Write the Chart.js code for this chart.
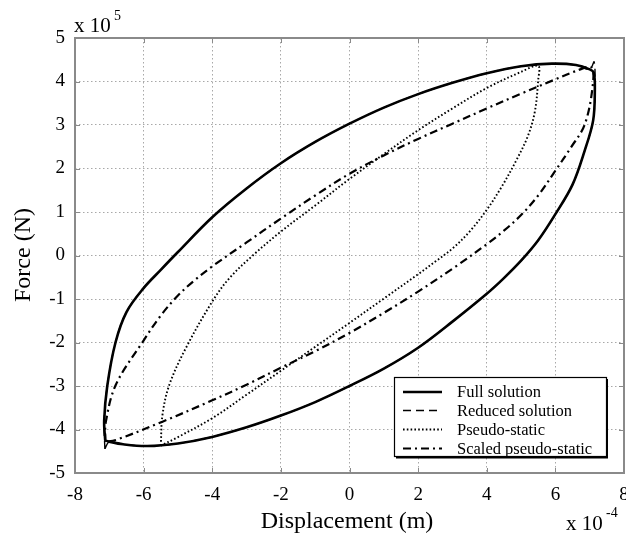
<!DOCTYPE html>
<html>
<head>
<meta charset="utf-8">
<script src="https://cdn.jsdelivr.net/npm/chart.js@4/dist/chart.umd.min.js"></script>
<style>
  html, body { margin: 0; padding: 0; background: #fff; }
  canvas { display: block; }
</style>
</head>
<body>
<canvas id="c" width="626" height="536"></canvas>
<script>
// Hysteresis loops: displacement in units of 1e-4 m, force in units of 1e5 N.

// Axis ticks
const xTickValues = [-8, -6, -4, -2, 0, 2, 4, 6, 8];
const yTickValues = [-5, -4, -3, -2, -1, 0, 1, 2, 3, 4, 5];

// Full solution (closed loop: loading branch, then unloading branch)
const fullX = [-7.12, -7.15, -7.06, -6.82, -6.50, -6.00, -5.50, -5.00, -4.00, -3.00, -2.00, -1.00, 0.00, 1.00, 2.00, 3.00, 4.00, 5.00, 5.90, 6.60, 7.00, 7.12,
               7.15, 7.10, 6.85, 6.50, 6.00, 5.50, 5.00, 4.50, 4.00, 3.00, 2.00, 1.00, 0.00, -1.00, -2.00, -3.00, -4.00, -5.00, -5.90, -6.60, -7.00, -7.12];
const fullY = [-4.25, -3.80, -3.00, -2.00, -1.30, -0.75, -0.33, 0.08, 0.88, 1.54, 2.12, 2.61, 3.03, 3.40, 3.71, 3.97, 4.19, 4.35, 4.41, 4.38, 4.28, 4.20,
               3.80, 3.10, 2.40, 1.63, 0.95, 0.35, -0.12, -0.52, -0.88, -1.52, -2.12, -2.60, -3.00, -3.37, -3.68, -3.95, -4.17, -4.32, -4.38, -4.34, -4.28, -4.25];

// Reduced solution (lies on the full solution, with short ends at the turning points)
const reducedX = [-7.13, -7.15, -7.06, -6.82, -6.50, -6.00, -5.50, -5.00, -4.00, -3.00, -2.00, -1.00, 0.00, 1.00, 2.00, 3.00, 4.00, 5.00, 5.90, 6.60, 7.00, 7.13,
                  7.15, 7.10, 6.85, 6.50, 6.00, 5.50, 5.00, 4.50, 4.00, 3.00, 2.00, 1.00, 0.00, -1.00, -2.00, -3.00, -4.00, -5.00, -5.90, -6.60, -7.00, -7.13];
const reducedY = [-4.45, -3.80, -3.00, -2.00, -1.30, -0.75, -0.33, 0.08, 0.88, 1.54, 2.12, 2.61, 3.03, 3.40, 3.71, 3.97, 4.19, 4.35, 4.41, 4.38, 4.28, 4.45,
                  3.80, 3.10, 2.40, 1.63, 0.95, 0.35, -0.12, -0.52, -0.88, -1.52, -2.12, -2.60, -3.00, -3.37, -3.68, -3.95, -4.17, -4.32, -4.38, -4.34, -4.28, -4.45];

// Pseudo-static
const pseudoX = [-5.50, -5.45, -5.25, -4.77, -4.00, -3.50, -2.82, -2.00, -1.00, 0.00, 1.00, 2.00, 3.00, 4.00, 5.00, 5.50,
                 5.50, 5.40, 5.20, 4.87, 4.45, 4.00, 3.50, 3.00, 2.50, 2.00, 1.00, 0.00, -1.00, -2.00, -3.00, -4.00, -5.06, -5.50];
const pseudoY = [-4.37, -3.66, -2.97, -2.13, -1.06, -0.52, 0.00, 0.55, 1.15, 1.76, 2.33, 2.88, 3.38, 3.85, 4.22, 4.36,
                 4.04, 3.30, 2.75, 2.20, 1.60, 1.05, 0.55, 0.16, -0.14, -0.43, -0.99, -1.55, -2.10, -2.65, -3.20, -3.74, -4.20, -4.37];

// Scaled pseudo-static
const scaledX = [-7.12, -7.10, -6.81, -6.03, -5.50, -5.00, -4.50, -4.00, -3.00, -2.00, -1.00, 0.00, 1.00, 2.00, 3.00, 4.00, 5.00, 6.00, 6.60, 7.05,
                 7.08, 6.85, 6.45, 6.00, 5.50, 5.00, 4.50, 4.00, 3.10, 2.00, 1.00, 0.00, -1.00, -2.00, -3.00, -4.00, -5.45, -6.81, -7.12];
const scaledY = [-4.28, -3.82, -2.97, -1.99, -1.38, -0.92, -0.56, -0.25, 0.30, 0.85, 1.38, 1.88, 2.30, 2.68, 3.03, 3.38, 3.72, 4.05, 4.24, 4.32,
                 3.85, 3.00, 2.48, 1.95, 1.38, 0.93, 0.57, 0.26, -0.25, -0.83, -1.32, -1.78, -2.20, -2.58, -2.97, -3.33, -3.82, -4.24, -4.28];

const SERIF = '"Liberation Serif", "Times New Roman", serif';

function pts(xs, ys) { return xs.map((x, i) => ({ x: x, y: ys[i] })); }

function series(label, xs, ys, width, dash) {
  return {
    label: label,
    data: pts(xs, ys),
    showLine: true,
    borderColor: '#000',
    backgroundColor: '#000',
    borderWidth: width,
    borderDash: dash,
    pointRadius: 0,
    tension: 0.35,
    fill: false
  };
}

// Box with inward tick marks, axis titles, exponents and legend
const decorations = {
  id: 'decorations',
  beforeDatasetsDraw(chart) {
    const ctx = chart.ctx;
    const a = chart.chartArea;
    const xs = chart.scales.x, ys = chart.scales.y;
    ctx.save();
    ctx.strokeStyle = '#8a8a8a';
    ctx.lineWidth = 1;
    const tl = 5;
    ctx.beginPath();
    xTickValues.forEach(v => {
      const px = Math.round(xs.getPixelForValue(v)) + 0.5;
      ctx.moveTo(px, a.top); ctx.lineTo(px, a.top + tl);
      ctx.moveTo(px, a.bottom); ctx.lineTo(px, a.bottom - tl);
    });
    yTickValues.forEach(v => {
      const py = Math.round(ys.getPixelForValue(v)) + 0.5;
      ctx.moveTo(a.left, py); ctx.lineTo(a.left + tl, py);
      ctx.moveTo(a.right, py); ctx.lineTo(a.right - tl, py);
    });
    ctx.stroke();
    ctx.lineWidth = 2;
    ctx.strokeRect(a.left, a.top, a.right - a.left, a.bottom - a.top);
    ctx.restore();
  },
  afterDraw(chart) {
    const ctx = chart.ctx;
    ctx.save();
    ctx.fillStyle = '#000';
    ctx.textBaseline = 'alphabetic';

    // Axis titles
    ctx.font = '24px ' + SERIF;
    ctx.textAlign = 'center';
    ctx.fillText('Displacement (m)', 347, 528);
    ctx.save();
    ctx.translate(30, 255);
    ctx.rotate(-Math.PI / 2);
    ctx.fillText('Force (N)', 0, 0);
    ctx.restore();

    // Exponents of the axes
    ctx.textAlign = 'left';
    ctx.font = '21px ' + SERIF;
    ctx.fillText('x 10', 74, 32);
    ctx.font = '14px ' + SERIF;
    ctx.fillText('5', 114, 20);
    ctx.font = '21px ' + SERIF;
    ctx.fillText('x 10', 566, 530);
    ctx.font = '14px ' + SERIF;
    ctx.fillText('-4', 606, 517);

    // Legend
    const L = 394, T = 377, R = 606, B = 456;
    ctx.fillStyle = '#fff';
    ctx.fillRect(L, T, R - L, B - T);
    ctx.strokeStyle = '#000';
    ctx.lineWidth = 1.2;
    ctx.strokeRect(L + 0.5, T + 0.5, R - L, B - T);
    ctx.lineWidth = 2;
    ctx.beginPath();
    ctx.moveTo(R + 1, T + 2); ctx.lineTo(R + 1, B + 1.5); ctx.lineTo(L + 2, B + 1.5);
    ctx.stroke();

    const rows = [392, 410.5, 429.5, 448.5];
    ctx.font = '16.5px ' + SERIF;
    ctx.textBaseline = 'middle';
    chart.data.datasets.forEach((ds, i) => {
      const y = rows[i];
      ctx.save();
      ctx.strokeStyle = ds.borderColor;
      ctx.lineWidth = ds.borderWidth;
      ctx.setLineDash(ds.borderDash || []);
      ctx.beginPath();
      ctx.moveTo(403, y); ctx.lineTo(442, y);
      ctx.stroke();
      ctx.restore();
      ctx.fillStyle = '#000';
      ctx.fillText(ds.label, 457, y + 1);
    });
    ctx.restore();
  }
};

const chart = new Chart(document.getElementById('c'), {
  type: 'scatter',
  data: {
    datasets: [
      series('Full solution', fullX, fullY, 2.6, []),
      series('Reduced solution', reducedX, reducedY, 1.4, [8, 5]),
      series('Pseudo-static', pseudoX, pseudoY, 1.9, [1.6, 2.2]),
      series('Scaled pseudo-static', scaledX, scaledY, 2.2, [8, 4, 2, 4])
    ]
  },
  options: {
    responsive: false,
    animation: false,
    devicePixelRatio: 1,
    layout: { padding: { top: 38, right: 2, left: 0, bottom: 0 } },
    plugins: {
      legend: { display: false },
      tooltip: { enabled: false }
    },
    scales: {
      x: {
        type: 'linear',
        min: -8, max: 8,
        afterBuildTicks(s) { s.ticks = xTickValues.map(v => ({ value: v })); },
        afterFit(s) { s.height = 63; s.paddingRight = 0; s.paddingLeft = 0; },
        ticks: {
          color: '#000',
          font: { family: SERIF, size: 19 },
          padding: 11,
          maxRotation: 0,
          autoSkip: false,
          callback: v => String(v)
        },
        grid: { color: '#a8a8a8', lineWidth: 1, drawTicks: false },
        border: { display: false, dash: [1.5, 2.5] }
      },
      y: {
        type: 'linear',
        min: -5, max: 5,
        afterBuildTicks(s) { s.ticks = yTickValues.map(v => ({ value: v })); },
        afterFit(s) { s.width = 75; s.paddingTop = 0; s.paddingBottom = 0; },
        ticks: {
          color: '#000',
          font: { family: SERIF, size: 19 },
          padding: 10,
          autoSkip: false,
          callback: v => String(v)
        },
        grid: { color: '#a8a8a8', lineWidth: 1, drawTicks: false },
        border: { display: false, dash: [1.5, 2.5] }
      }
    }
  },
  plugins: [decorations]
});
</script>
</body>
</html>
